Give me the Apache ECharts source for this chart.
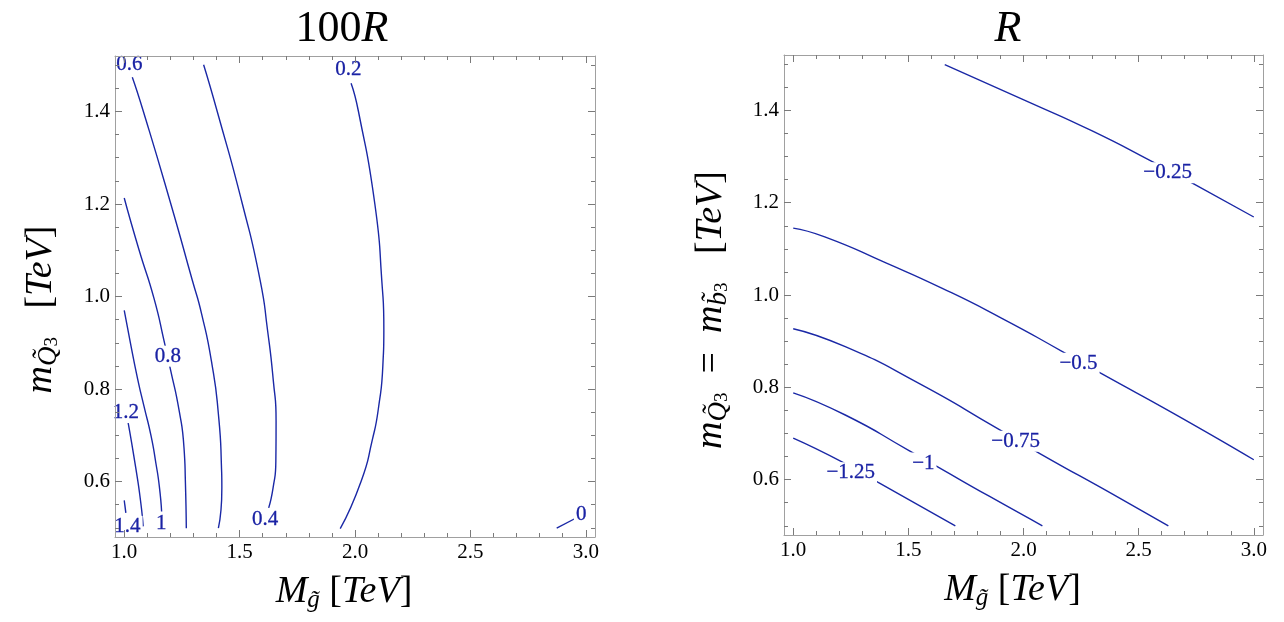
<!DOCTYPE html>
<html>
<head>
<meta charset="utf-8">
<script src="https://cdn.jsdelivr.net/npm/echarts@6.0.0/dist/echarts.min.js"></script>
<style>
  html, body { margin: 0; padding: 0; background: #fff; }
  #main { width: 1284px; height: 622px; }
</style>
</head>
<body>
<div id="main"></div>
<script>
// tick values (both panels share them)
const xMajor = [1.0, 1.5, 2.0, 2.5, 3.0];
const xMinor = [1.1, 1.2, 1.3, 1.4, 1.6, 1.7, 1.8, 1.9, 2.1, 2.2, 2.3, 2.4, 2.6, 2.7, 2.8, 2.9];
const yMajor = [0.6, 0.8, 1.0, 1.2, 1.4];
const yMinor = [0.5, 0.55, 0.65, 0.7, 0.75, 0.85, 0.9, 0.95, 1.05, 1.1, 1.15, 1.25, 1.3, 1.35, 1.45, 1.5];

// left panel: 100R contours
const c14 = [[1.0, 0.559], [1.007, 0.532]];
const c12 = [[1.017, 0.727], [1.051, 0.626], [1.072, 0.553], [1.082, 0.503]];
const c10 = [[1.0, 0.970], [1.029, 0.894], [1.058, 0.822], [1.085, 0.764], [1.116, 0.699], [1.137, 0.640], [1.152, 0.590], [1.162, 0.535]];
const c08 = [[1.0, 1.213], [1.064, 1.101], [1.129, 0.996], [1.174, 0.901], [1.2, 0.843], [1.238, 0.753], [1.259, 0.673], [1.265, 0.6], [1.269, 0.499]];
const c06 = [[1.035, 1.474], [1.083, 1.4], [1.202, 1.2], [1.295, 1.035], [1.335, 0.963], [1.380, 0.854], [1.408, 0.746], [1.421, 0.637], [1.423, 0.586], [1.408, 0.499]];
const c04 = [[1.344, 1.501], [1.403, 1.4], [1.512, 1.2], [1.589, 1.035], [1.621, 0.927], [1.646, 0.818], [1.658, 0.731], [1.657, 0.644], [1.645, 0.586], [1.626, 0.543]];
const c02 = [[1.983, 1.461], [2.015, 1.4], [2.086, 1.2], [2.116, 1.035], [2.125, 0.927], [2.121, 0.854], [2.102, 0.76], [2.075, 0.69], [2.027, 0.601], [1.936, 0.498]];
const c00 = [[2.874, 0.499], [2.954, 0.52]];
const leftLabels = [
  [1.014, 0.503, '1.4'], [1.007, 0.749, '1.2'], [1.16, 0.51, '1'], [1.189, 0.871, '0.8'],
  [1.022, 1.501, '0.6'], [1.61, 0.517, '0.4'], [1.971, 1.490, '0.2'], [2.98, 0.529, '0']
];

// right panel: R contours
const r025 = [[1.658, 1.499], [2.028, 1.417], [2.296, 1.356], [2.555, 1.290], [2.745, 1.239], [3.0, 1.169]];
const r050 = [[1.0, 1.145], [1.137, 1.126], [1.405, 1.069], [1.645, 1.015], [1.904, 0.95], [2.171, 0.877], [2.341, 0.829], [2.653, 0.743], [3.0, 0.643]];
const r075 = [[1.0, 0.927], [1.226, 0.888], [1.548, 0.808], [1.886, 0.711], [2.073, 0.656], [2.385, 0.569], [2.629, 0.5]];
const r100 = [[1.0, 0.788], [1.226, 0.740], [1.503, 0.663], [1.633, 0.626], [1.851, 0.564], [2.082, 0.5]];
const r125 = [[1.0, 0.690], [1.218, 0.637], [1.369, 0.594], [1.704, 0.5]];
const rightLabels = [
  [2.626, 1.265, '\u22120.25'], [2.239, 0.852, '\u22120.5'], [1.966, 0.683, '\u22120.75'],
  [1.565, 0.636, '\u22121'], [1.25, 0.615, '\u22121.25']
];

const FONT = "'Liberation Serif', 'DejaVu Serif', serif";
const BLUE = '#1a28a6';
const LABEL_BLUE = '#1a22a4';
const FRAME = '#a0a0a0';
const TICK = '#7a7a7a';

const chart = echarts.init(document.getElementById('main'));

// math-ish rich text styles for axis names
const nameRich = {
  i: { fontFamily: FONT, fontStyle: 'italic', fontSize: 38, lineHeight: 42, color: '#000' },
  n: { fontFamily: FONT, fontSize: 38, lineHeight: 42, color: '#000' },
  g: { fontFamily: FONT, fontStyle: 'italic', fontSize: 25, lineHeight: 20, verticalAlign: 'bottom', color: '#000' },
  s: { fontFamily: FONT, fontStyle: 'italic', fontSize: 27, lineHeight: 11, verticalAlign: 'bottom', color: '#000' },
  ss: { fontFamily: FONT, fontSize: 19, lineHeight: 6, verticalAlign: 'bottom', color: '#000' }
};

function xAxes(grid, name) {
  const base = { gridIndex: grid, type: 'value', min: 0.96, max: 3.04, z: 10, splitLine: { show: false } };
  const major = { show: true, inside: true, length: 7, customValues: xMajor, lineStyle: { color: TICK } };
  const minor = { show: true, inside: true, length: 4, customValues: xMinor, lineStyle: { color: TICK } };
  return [
    Object.assign({}, base, {
      position: 'bottom',
      axisLine: { show: true, lineStyle: { color: FRAME } },
      axisTick: major,
      axisLabel: { customValues: xMajor, formatter: v => v.toFixed(1), margin: 5, color: '#000', fontFamily: FONT, fontSize: 21 },
      name: name, nameLocation: 'middle', nameGap: 34,
      nameTextStyle: { rich: nameRich, padding: [0, 22, 0, 0] }
    }),
    Object.assign({}, base, { position: 'bottom', axisLine: { show: false }, axisTick: minor, axisLabel: { show: false } }),
    Object.assign({}, base, { position: 'top', axisLine: { show: true, lineStyle: { color: FRAME } }, axisTick: major, axisLabel: { show: false } }),
    Object.assign({}, base, { position: 'top', axisLine: { show: false }, axisTick: minor, axisLabel: { show: false } })
  ];
}

function yAxes(grid, name, gap, pad) {
  const base = { gridIndex: grid, type: 'value', min: 0.48, max: 1.52, z: 10, splitLine: { show: false } };
  const major = { show: true, inside: true, length: 7, customValues: yMajor, lineStyle: { color: TICK } };
  const minor = { show: true, inside: true, length: 4, customValues: yMinor, lineStyle: { color: TICK } };
  return [
    Object.assign({}, base, {
      position: 'left',
      axisLine: { show: true, lineStyle: { color: FRAME } },
      axisTick: major,
      axisLabel: { customValues: yMajor, formatter: v => v.toFixed(1), margin: 5, color: '#000', fontFamily: FONT, fontSize: 21 },
      name: name, nameLocation: 'middle', nameRotate: 90, nameGap: gap,
      nameTextStyle: { rich: nameRich, padding: [0, pad, 0, 0] }
    }),
    Object.assign({}, base, { position: 'left', axisLine: { show: false }, axisTick: minor, axisLabel: { show: false } }),
    Object.assign({}, base, { position: 'right', axisLine: { show: true, lineStyle: { color: FRAME } }, axisTick: major, axisLabel: { show: false } }),
    Object.assign({}, base, { position: 'right', axisLine: { show: false }, axisTick: minor, axisLabel: { show: false } })
  ];
}

function contour(data, axis) {
  return {
    type: 'line', xAxisIndex: axis, yAxisIndex: axis, data: data,
    showSymbol: false, smooth: 0.6, z: 2, silent: true,
    lineStyle: { color: BLUE, width: 1.4 }
  };
}

function labels(data, axis) {
  return {
    type: 'scatter', xAxisIndex: axis, yAxisIndex: axis, data: data,
    symbolSize: 1, itemStyle: { color: '#fff', opacity: 1 }, z: 3, silent: true,
    label: {
      show: true, position: 'inside', formatter: p => p.data[2],
      color: LABEL_BLUE, fontFamily: FONT, fontSize: 21,
      textBorderColor: LABEL_BLUE, textBorderWidth: 0.3,
      backgroundColor: '#fff', padding: [0, 2]
    }
  };
}

const xName = '{i|M}{g|g\u0303}{n| [}{i|TeV}{n|]}';
const yNameL = '{i|m}{s|Q\u0303}{ss|3}{n|   [}{i|TeV}{n|]}';
const yNameR = '{i|m}{s|Q\u0303}{ss|3}{n|  =  }{i|m}{s|b\u0303}{ss|3}{n|   [}{i|TeV}{n|]}';

const titleRich = {
  a: { fontFamily: FONT, fontSize: 44, lineHeight: 46, fontWeight: 'normal', color: '#000' },
  b: { fontFamily: FONT, fontSize: 44, lineHeight: 46, fontWeight: 'normal', fontStyle: 'italic', color: '#000' }
};

chart.setOption({
  backgroundColor: '#fff',
  animation: false,
  title: [
    { text: '{a|100}{b|R}', left: 342, top: 6, textAlign: 'center', padding: 0, textStyle: { fontWeight: 'normal', rich: titleRich } },
    { text: '{b|R}', left: 1008, top: 6, textAlign: 'center', padding: 0, textStyle: { fontWeight: 'normal', rich: titleRich } }
  ],
  grid: [
    { left: 115, top: 56, width: 480, height: 481 },
    { left: 784, top: 55, width: 479, height: 480 }
  ],
  xAxis: xAxes(0, xName).concat(xAxes(1, xName)),
  yAxis: yAxes(0, yNameL, 53, 26).concat(yAxes(1, yNameR, 52, 30)),
  series: [
    contour(c14, 0), contour(c12, 0), contour(c10, 0), contour(c08, 0),
    contour(c06, 0), contour(c04, 0), contour(c02, 0), contour(c00, 0),
    labels(leftLabels, 0),
    contour(r025, 4), contour(r050, 4), contour(r075, 4), contour(r100, 4), contour(r125, 4),
    labels(rightLabels, 4)
  ]
});
</script>
</body>
</html>
